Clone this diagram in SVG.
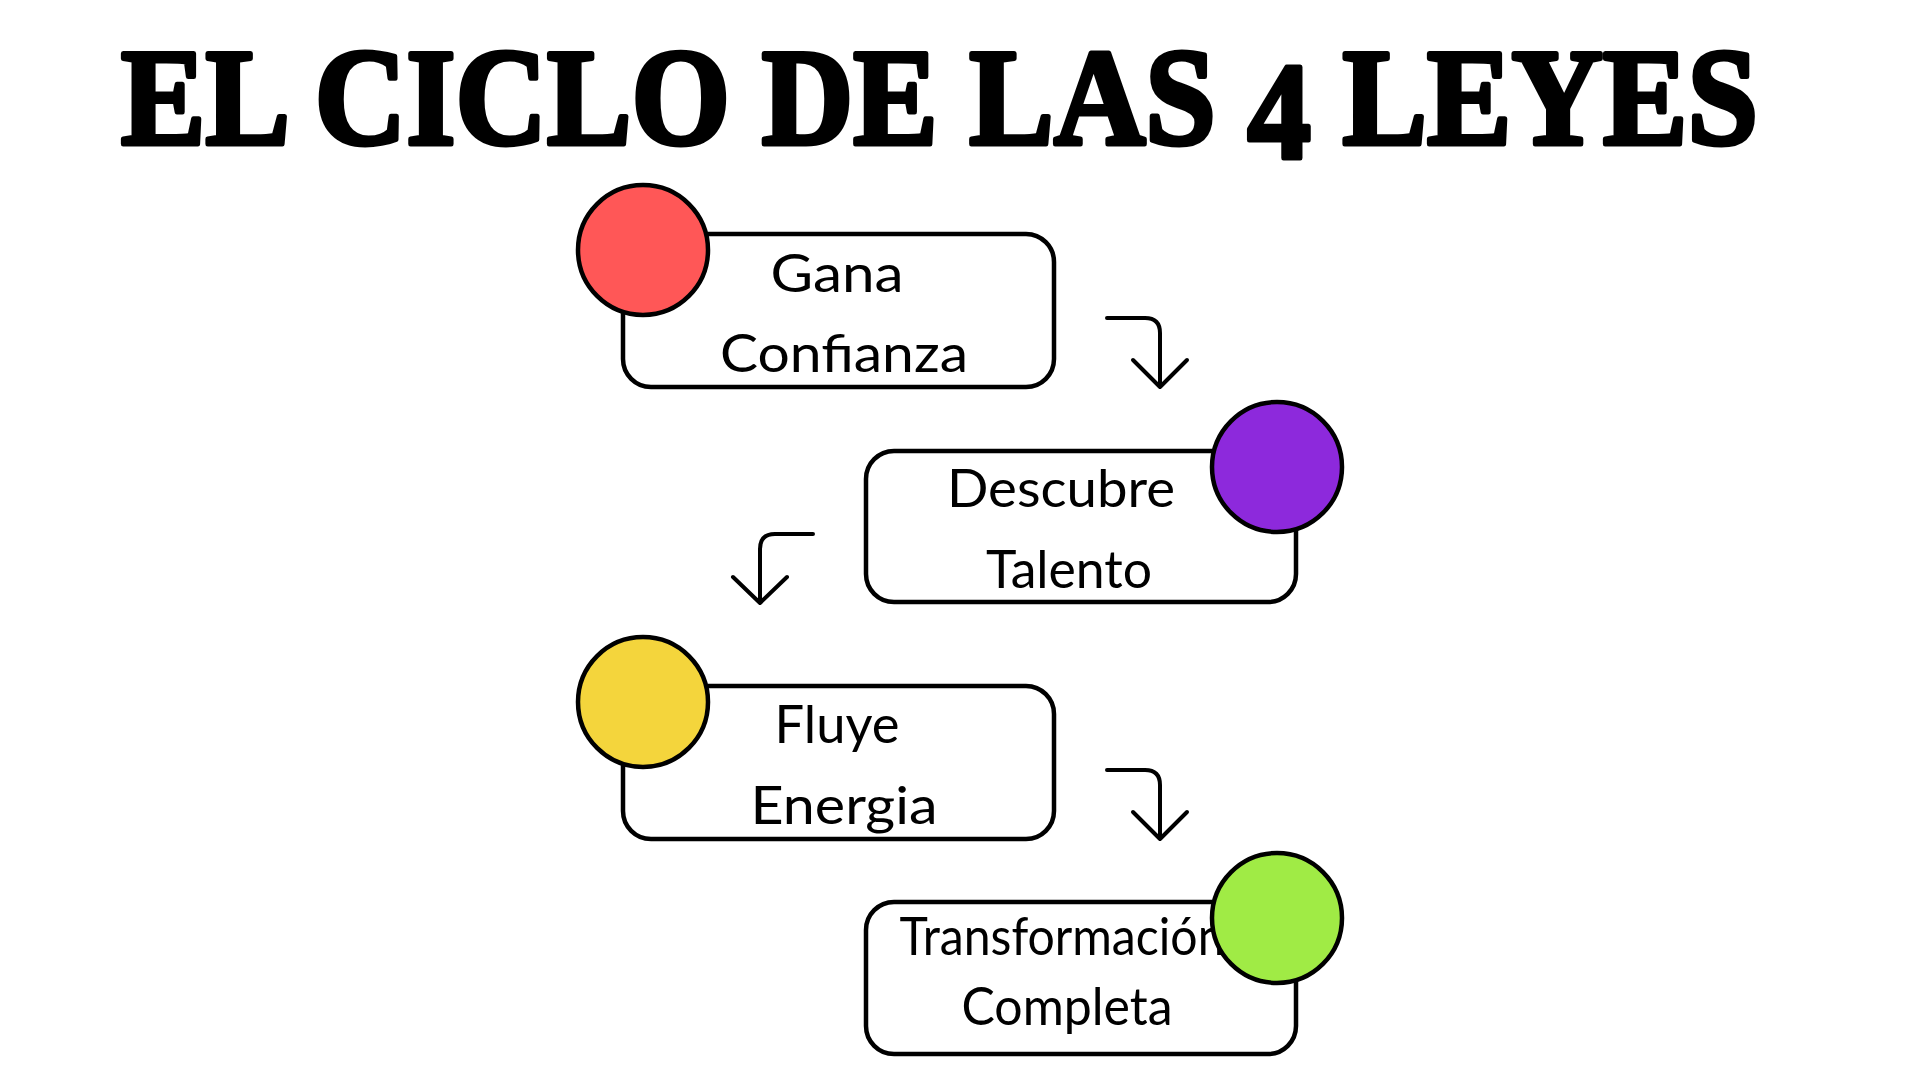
<svg xmlns="http://www.w3.org/2000/svg" width="1920" height="1080" viewBox="0 0 1920 1080">
<style>
.title{font-family:"Liberation Serif","DejaVu Serif",serif;font-weight:bold;font-size:138px;fill:#000;stroke:#000;stroke-width:5;stroke-linejoin:round}
.box{fill:#fff;stroke:#000;stroke-width:4.5}
.dot{stroke:#000;stroke-width:4.5}
.lbl{font-family:Lato,"Open Sans",sans-serif;font-weight:400;font-size:52px;fill:#000;text-anchor:middle}
.arr{fill:none;stroke:#000;stroke-width:4;stroke-linecap:round;stroke-linejoin:round}
</style>
<rect width="1920" height="1080" fill="#fff"/>
<text class="title" x="121" y="144" textLength="1637" lengthAdjust="spacingAndGlyphs">EL CICLO DE LAS <tspan dy="14">4</tspan><tspan dy="-14"> LEYES</tspan></text>
<g id="connectors">
<path class="arr" d="M1107 318 H1145 Q1160 318 1160 333 V387 M1133 360 L1160 387 L1187 360"/>
<path class="arr" d="M813 534 H775 Q760 534 760 549 V603 M733 577 L760 603 L787 577"/>
<path class="arr" d="M1107 770 H1145 Q1160 770 1160 785 V839 M1133 812 L1160 839 L1187 812"/>
</g>
<g id="node1">
<rect class="box" x="623" y="234" width="431" height="153" rx="28"/>
<circle class="dot" cx="643" cy="250" r="65" fill="#FF5757"/>
<text class="lbl" x="837" y="292" textLength="133" lengthAdjust="spacingAndGlyphs">Gana</text>
<text class="lbl" x="844" y="372" textLength="248" lengthAdjust="spacingAndGlyphs">Confianza</text>
</g>
<g id="node2">
<rect class="box" x="866" y="451" width="430" height="151" rx="28"/>
<circle class="dot" cx="1277" cy="467" r="65" fill="#8D29DC"/>
<text class="lbl" x="1061" y="507" textLength="228" lengthAdjust="spacingAndGlyphs">Descubre</text>
<text class="lbl" x="1069" y="588" textLength="166" lengthAdjust="spacingAndGlyphs">Talento</text>
</g>
<g id="node3">
<rect class="box" x="623" y="686" width="431" height="153" rx="28"/>
<circle class="dot" cx="643" cy="702" r="65" fill="#F4D53C"/>
<text class="lbl" x="837" y="743" textLength="125" lengthAdjust="spacingAndGlyphs">Fluye</text>
<text class="lbl" x="844" y="824" textLength="187" lengthAdjust="spacingAndGlyphs">Energia</text>
</g>
<g id="node4">
<rect class="box" x="866" y="902" width="430" height="152" rx="28"/>
<text class="lbl" x="1062" y="955" textLength="325" lengthAdjust="spacingAndGlyphs">Transformación</text>
<circle class="dot" cx="1277" cy="918" r="65" fill="#A0EB45"/>
<text class="lbl" x="1067" y="1025" textLength="211" lengthAdjust="spacingAndGlyphs">Completa</text>
</g>
</svg>
